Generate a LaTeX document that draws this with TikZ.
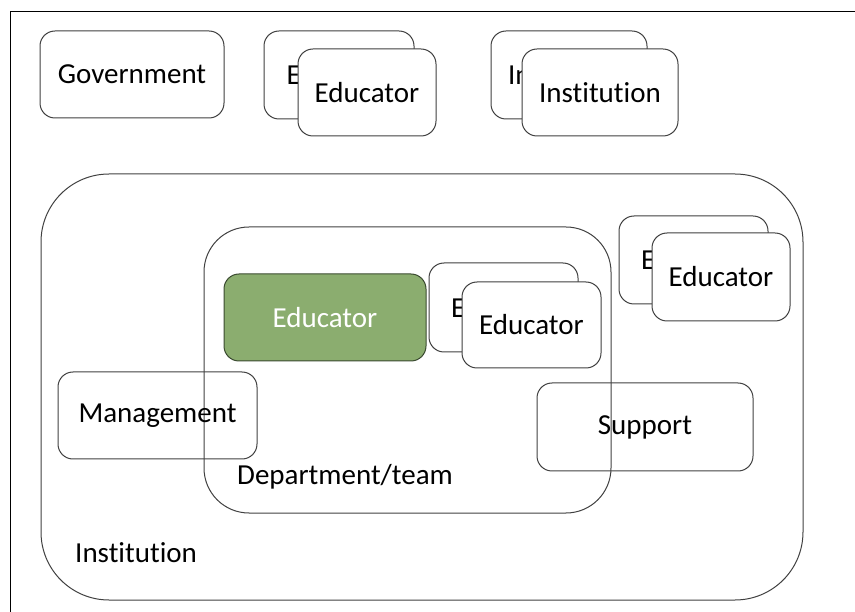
\documentclass[tikz,border=0pt]{standalone}
\usepackage{fontspec}
\setmainfont{Carlito}[Ligatures=NoCommon]
\definecolor{edgegray}{HTML}{404040}
\definecolor{greenfill}{HTML}{8BAD6F}
\definecolor{greenedge}{HTML}{3A4A30}
\begin{document}
\begin{tikzpicture}[x=1pt,y=-1pt,
  box/.style={draw=edgegray, line width=1pt, rounded corners=15pt, inner sep=0pt,
    font=\fontsize{29}{34}\selectfont, align=center},
  solid/.style={box, fill=white},
  lbl/.style={font=\fontsize{29}{34}\selectfont, inner sep=0pt, anchor=west}]
\useasboundingbox (0,0) rectangle (855,612);
% frame
\coordinate (ftr) at (855,12);
\coordinate (ftl) at (10,12);
\coordinate (fbl) at (10,612);
\draw[line width=1pt, black] (ftr) -- (ftl) -- (fbl);
% top row
\node[solid, minimum width=184pt, minimum height=87pt] (gov) at (132,74.5) {Government};
\node[solid, minimum width=150pt, minimum height=88pt] (edub1) at (339,75) {Educator};
\node[solid, minimum width=138pt, minimum height=87pt] (eduf1) at (367,92.5) {Educator};
\node[solid, minimum width=156pt, minimum height=88pt] (instb) at (569,75) {Institution};
\node[solid, minimum width=156pt, minimum height=87pt] (instf) at (600,92.5) {Institution};
% big institution
\node[box, rounded corners=68pt, minimum width=762pt, minimum height=426pt] (inst) at (422,387) {};
\node[lbl] (instlbl) at (75,553) {Institution};
% department
\node[box, rounded corners=45pt, minimum width=407pt, minimum height=286pt] (dept) at (407.5,370) {};
\node[lbl] (deptlbl) at (237,477) {Department/team};
% green educator
\node[box, draw=greenedge, fill=greenfill, text=white, minimum width=202pt, minimum height=87pt] (green) at (325,317.5) {Educator};
% dept educators
\node[solid, minimum width=149pt, minimum height=89pt] (edub2) at (503.5,307.5) {Educator};
\node[solid, minimum width=139pt, minimum height=86pt] (eduf2) at (531.5,325) {Educator};
% right educators
\node[solid, minimum width=149pt, minimum height=88pt] (edub3) at (693.5,260) {Educator};
\node[solid, minimum width=138pt, minimum height=88pt] (eduf3) at (721,277) {Educator};
% management and support
\node[box, minimum width=199pt, minimum height=87pt] (mgmt) at (157.5,415.5) {Management};
\node[box, minimum width=216pt, minimum height=88pt] (supp) at (645,427) {Support};
\end{tikzpicture}
\end{document}
